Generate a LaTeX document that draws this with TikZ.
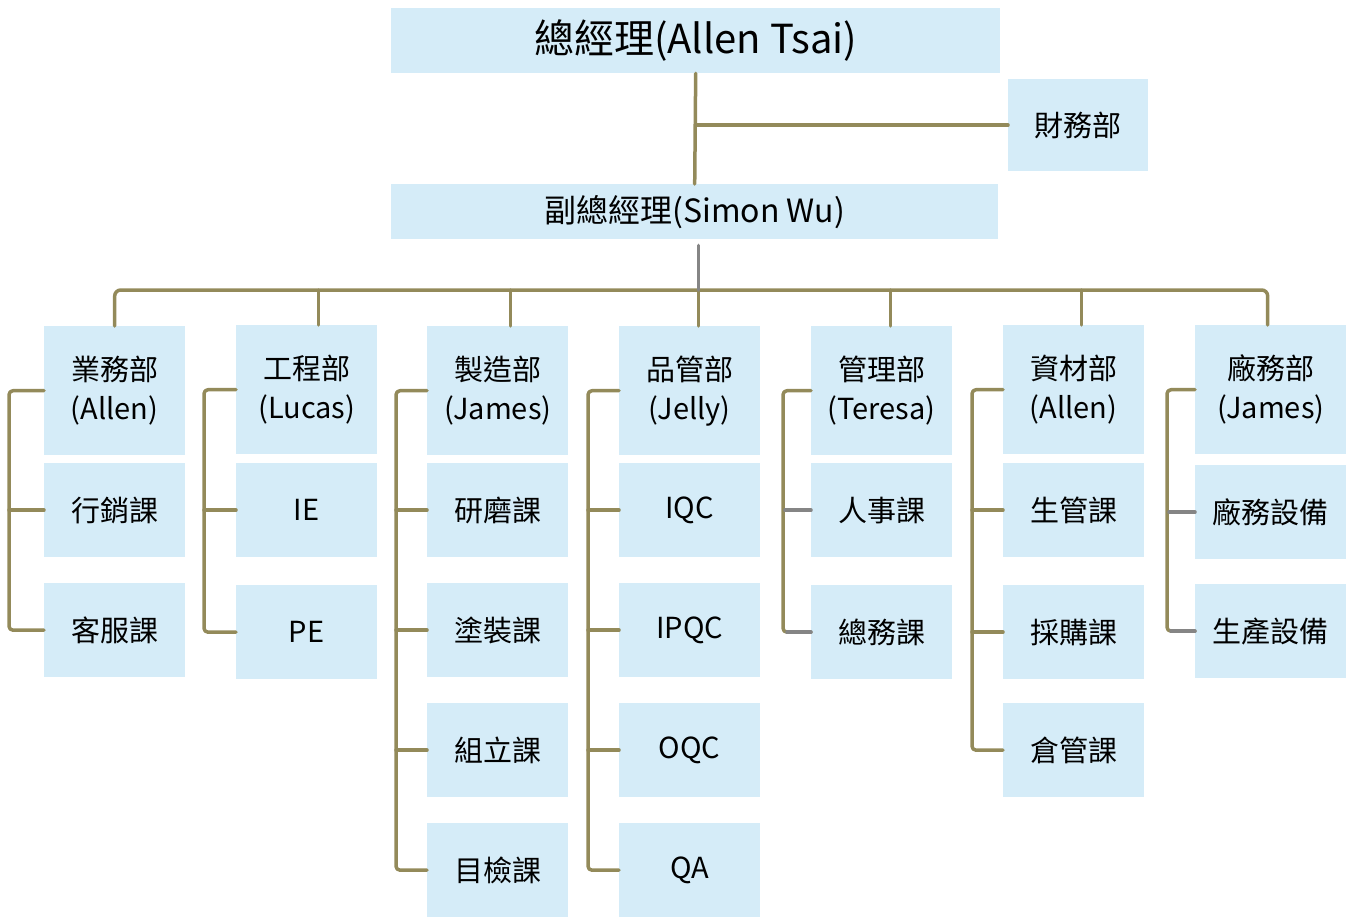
\documentclass[tikz,border=0pt]{standalone}
\usepackage{fontspec}
\setmainfont{Noto Sans CJK TC}
\usetikzlibrary{calc}

\definecolor{boxblue}{HTML}{D5ECF8}
\definecolor{linegold}{HTML}{938A5A}
\definecolor{linegray}{HTML}{858585}

\begin{document}
\begin{tikzpicture}[x=1pt, y=-1pt, line cap=round, line join=round]
	\useasboundingbox (0,0) rectangle (1347,918);
	\tikzset{
		box/.style={fill=boxblue, anchor=north west, inner sep=0pt, align=center, font=\fontsize{29}{39}\selectfont},
		head/.style={box, minimum width=141pt, minimum height=129pt},
		sub/.style={box, minimum width=141pt, minimum height=94pt},
		conn/.style={draw=linegold, line width=3.5pt},
		grayconn/.style={draw=linegray, line width=3.5pt}
	}

	% --- top of the chart
	\node[box, minimum width=609pt, minimum height=65pt, font=\fontsize{40}{44}\selectfont] (gm) at (391,8) {總經理(Allen Tsai)};
	\node[box, minimum width=140pt, minimum height=92pt] (fin) at (1008,79) {財務部};
	\node[box, minimum width=607pt, minimum height=55pt, font=\fontsize{32}{36}\selectfont] (vp) at (391,184) {副總經理(Simon Wu)};

	% --- department heads
	\node[head] (h1) at (44,326)   {業務部\\(Allen)};
	\node[head] (h2) at (236,325)  {工程部\\(Lucas)};
	\node[head] (h3) at (427,326)  {製造部\\(James)};
	\node[head] (h4) at (619,326)  {品管部\\(Jelly)};
	\node[head] (h5) at (811,326)  {管理部\\(Teresa)};
	\node[head] (h6) at (1003,325) {資材部\\(Allen)};
	\node[head, minimum width=151pt] (h7) at (1195,325) {廠務部\\(James)};

	% --- sections under each department
	\node[sub] (s11) at (44,463) {行銷課};
	\node[sub] (s12) at (44,583) {客服課};

	\node[sub] (s21) at (236,463) {IE};
	\node[sub] (s22) at (236,585) {PE};

	\node[sub] (s31) at (427,463) {研磨課};
	\node[sub] (s32) at (427,583) {塗裝課};
	\node[sub] (s33) at (427,703) {組立課};
	\node[sub] (s34) at (427,823) {目檢課};

	\node[sub] (s41) at (619,463) {IQC};
	\node[sub] (s42) at (619,583) {IPQC};
	\node[sub] (s43) at (619,703) {OQC};
	\node[sub] (s44) at (619,823) {QA};

	\node[sub] (s51) at (811,463) {人事課};
	\node[sub] (s52) at (811,585) {總務課};

	\node[sub] (s61) at (1003,463) {生管課};
	\node[sub] (s62) at (1003,585) {採購課};
	\node[sub] (s63) at (1003,703) {倉管課};

	\node[sub, minimum width=151pt] (s71) at (1195,465) {廠務設備};
	\node[sub, minimum width=151pt] (s72) at (1195,584) {生產設備};

	% --- top connectors
	\draw[conn] (gm.south) -- (vp.north);
	\draw[conn] (gm.south |- fin.west) -- (fin.west);

	% --- bus under the vice manager
	\coordinate (bus) at (699,290);
	\draw[conn, rounded corners=6pt] (h1.north) |- (bus) -| ([xshift=-3pt]h7.north);
	\draw[conn] ([xshift=12pt]h2.north) -- ([xshift=12pt]h2.north |- bus);
	\draw[conn] ([xshift=13pt]h3.north) -- ([xshift=13pt]h3.north |- bus);
	\draw[conn] ([xshift=9pt]h4.north) -- ([xshift=9pt]h4.north |- bus);
	\draw[conn] ([xshift=9pt]h5.north) -- ([xshift=9pt]h5.north |- bus);
	\draw[conn] ([xshift=8pt]h6.north) -- ([xshift=8pt]h6.north |- bus);
	\draw[grayconn] ([xshift=4pt,yshift=-6pt]vp.south) -- ([xshift=4pt]vp.south |- bus);

	% --- brackets on the left of each column
	\draw[conn, rounded corners=4pt] (h1.west) -- ++(-35,0) |- (s12.west);
	\draw[conn] (s11.west) -- ++(-35,0);

	\draw[conn, rounded corners=4pt] (h2.west) -- ++(-32,0) |- (s22.west);
	\draw[conn] (s21.west) -- ++(-32,0);

	\draw[conn, rounded corners=4pt] (h3.west) -- ++(-31,0) |- (s34.west);
	\draw[conn] (s31.west) -- ++(-31,0);
	\draw[conn] (s32.west) -- ++(-31,0);
	\draw[conn] (s33.west) -- ++(-31,0);

	\draw[conn, rounded corners=4pt] (h4.west) -- ++(-31,0) |- (s44.west);
	\draw[conn] (s41.west) -- ++(-31,0);
	\draw[conn] (s42.west) -- ++(-31,0);
	\draw[conn] (s43.west) -- ++(-31,0);

	\draw[conn, rounded corners=4pt] (h5.west) -- ++(-28,0) |- (s52.west);
	\draw[grayconn] (s51.west) -- ++(-26,0);
	\draw[grayconn] (s52.west) -- ++(-24,0);

	\draw[conn, rounded corners=4pt] (h6.west) -- ++(-31,0) |- (s63.west);
	\draw[conn] (s61.west) -- ++(-31,0);
	\draw[conn] (s62.west) -- ++(-31,0);

	\draw[conn, rounded corners=4pt] (h7.west) -- ++(-28,0) |- (s72.west);
	\draw[grayconn] (s71.west) -- ++(-26,0);
	\draw[grayconn] (s72.west) -- ++(-24,0);

\end{tikzpicture}
\end{document}
